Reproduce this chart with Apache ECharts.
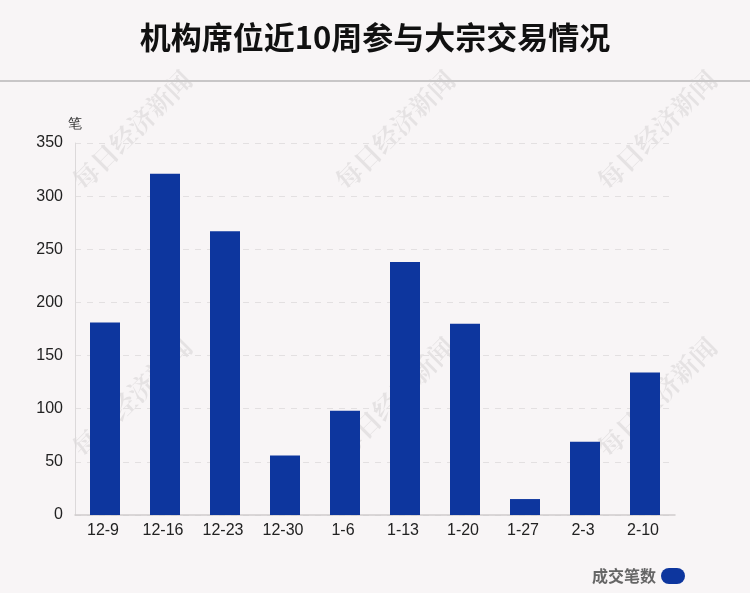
<!DOCTYPE html>
<html><head><meta charset="utf-8">
<script src="https://cdn.jsdelivr.net/npm/echarts@6/dist/echarts.min.js"></script>
<style>html,body{margin:0;padding:0;background:#f8f5f6;}#c{width:750px;height:593px;}</style>
</head><body><div id="c"></div>
<script>
const categories = ['12-9','12-16','12-23','12-30','1-6','1-13','1-20','1-27','2-3','2-10'];
const counts = [181, 321, 267, 56, 98, 238, 180, 15, 69, 134];
const yTicks = [0, 50, 100, 150, 200, 250, 300, 350];
const seriesName = '成交笔数';
const titleText = '机构席位近10周参与大宗交易情况';
const unitText = '笔';
const watermark = '每日经济新闻';

const chart = echarts.init(document.getElementById('c'));
const wmPos = [[132,130],[395,130],[657,130],[132,397],[395,397],[657,397]];
const graphics = wmPos.map(p => ({
  type: 'text', x: p[0], y: p[1], rotation: Math.PI/4, z: 0,
  style: { text: watermark, fill: 'rgba(0,0,0,0.075)', font: 'bold 26px "Noto Serif CJK SC", "Noto Sans CJK SC"', textAlign: 'center', textVerticalAlign: 'middle' }
}));
graphics.push({ type: 'rect', shape: { x: 0, y: 80, width: 750, height: 2 }, style: { fill: '#c8c6c7' }, z: 1 });
chart.setOption({
  backgroundColor: '#f8f5f6',
  title: { text: titleText, left: 'center', top: 17, textStyle: { fontSize: 31, fontWeight: 'bold', color: '#111', fontFamily: '"Noto Sans CJK SC"' } },
  graphic: graphics,
  legend: { data: [seriesName], right: 60, bottom: 4, align: 'right', itemWidth: 24, itemHeight: 17,
    icon: 'path://M8,0 H16 A8,8 0 0 1 16,16 H8 A8,8 0 0 1 8,0 Z',
    textStyle: { fontSize: 16, color: '#666', fontWeight: 'bold', fontFamily: '"Noto Sans CJK SC"' } },
  grid: { left: 75, right: 75, top: 143, bottom: 78 },
  xAxis: { type: 'category', data: categories,
    axisLine: { lineStyle: { color: '#cfcccd', width: 1.5 } }, axisTick: { show: false },
    axisLabel: { fontSize: 16, color: '#222', margin: 8, padding: [0,4,0,0], fontFamily: 'Liberation Sans' } },
  yAxis: { type: 'value', min: yTicks[0], max: yTicks[yTicks.length-1], interval: 50,
    name: unitText, nameTextStyle: { fontSize: 14, color: '#333', align: 'center', padding: [0,0,0,0] }, nameGap: 12,
    axisLine: { show: true, lineStyle: { color: '#dcd9da' } }, axisTick: { show: false },
    splitLine: { lineStyle: { type: [6,6], color: '#e3e0e1' } },
    axisLabel: { fontSize: 16, color: '#222', margin: 12, fontFamily: 'Liberation Sans' } },
  series: [{ name: seriesName, type: 'bar', data: counts, barWidth: 30, itemStyle: { color: '#0d369e' } }]
});
</script></body></html>
